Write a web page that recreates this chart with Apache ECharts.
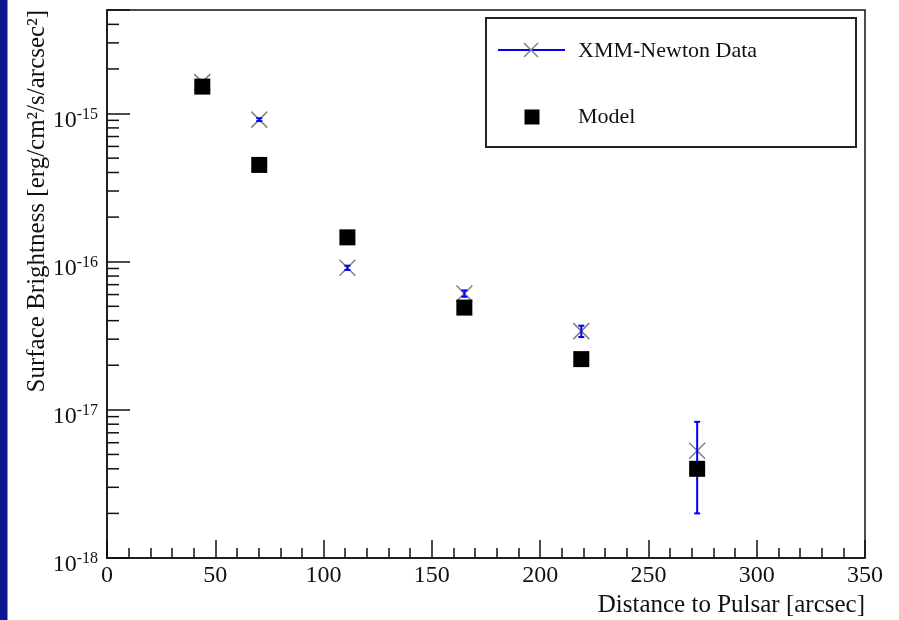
<!DOCTYPE html>
<html>
<head>
<meta charset="utf-8">
<title>Surface Brightness vs Distance to Pulsar</title>
<script src="https://cdn.jsdelivr.net/npm/echarts@6/dist/echarts.min.js"></script>
<style>
  html, body { margin: 0; padding: 0; background: #ffffff; }
  #chart { width: 899px; height: 620px; }
</style>
</head>
<body>
<div id="chart"></div>
<script>
// Radial distances of the annuli [arcsec]
const distances = [44, 70.3, 111, 165, 219, 272.5];

// Measured surface brightness [erg/cm^2/s/arcsec^2] with error bounds
const xmmValues = [1.63e-15, 9.1e-16, 9.1e-17, 6.1e-17, 3.4e-17, 5.3e-18];
const xmmLow    = [1.58e-15, 8.9e-16, 8.8e-17, 5.8e-17, 3.1e-17, 2.0e-18];
const xmmHigh   = [1.68e-15, 9.3e-16, 9.4e-17, 6.4e-17, 3.7e-17, 8.3e-18];

// Model prediction at the same distances
const modelValues = [1.52e-15, 4.5e-16, 1.46e-16, 4.9e-17, 2.2e-17, 4.0e-18];

// Series names
const seriesNames = ['XMM-Newton Data', 'Model'];

// Axis texts and ranges
const xTitle = 'Distance to Pulsar [arcsec]';
const yTitle = 'Surface Brightness [erg/cm\u00B2/s/arcsec\u00B2]';
const xRange = [0, 350];
const yRange = [1e-18, 5e-15];

// Logarithmic minor ticks: 2..9 times each decade
const yDecades = [1e-18, 1e-17, 1e-16, 1e-15];
const minorMultipliers = [2, 3, 4, 5, 6, 7, 8, 9];
const yMinorTicks = [];
yDecades.forEach(d => minorMultipliers.forEach(m => {
  const v = d * m;
  if (v < yRange[1] * 0.999) yMinorTicks.push(v);
}));

const FONT = 'Liberation Serif';
const INK = '#111111';

const chart = echarts.init(document.getElementById('chart'), null, { renderer: 'canvas' });

const xmmData = distances.map((d, i) => [d, xmmValues[i], xmmLow[i], xmmHigh[i]]);
const modelData = distances.map((d, i) => [d, modelValues[i]]);
const minorData = yMinorTicks.map(v => [xRange[0], v]);

const option = {
  animation: false,
  backgroundColor: '#ffffff',
  grid: {
    left: 107, top: 10, right: 34, bottom: 62,
    show: true, borderColor: INK, borderWidth: 1.5, backgroundColor: 'transparent'
  },
  xAxis: {
    type: 'value',
    min: xRange[0], max: xRange[1], interval: 50,
    axisLine: { show: true, onZero: false, lineStyle: { color: INK, width: 1.5 } },
    axisTick: { show: true, inside: true, length: 18, lineStyle: { color: INK, width: 1.5 } },
    minorTick: { show: true, splitNumber: 5, length: 10, lineStyle: { color: INK, width: 1.5 } },
    splitLine: { show: false },
    axisLabel: { color: INK, fontFamily: FONT, fontSize: 24, margin: 6 }
  },
  yAxis: {
    type: 'log', logBase: 10,
    min: yRange[0], max: yRange[1],
    axisLine: { show: true, lineStyle: { color: INK, width: 1.5 } },
    axisTick: { show: true, inside: true, length: 23, lineStyle: { color: INK, width: 1.5 } },
    splitLine: { show: false },
    axisLabel: {
      margin: 9,
      padding: [12, 0, 0, 0],
      formatter: function (v) {
        const e = Math.log10(v);
        const r = Math.round(e);
        if (Math.abs(e - r) > 1e-6) return '';
        return '{b|10}{s|' + r + '}';
      },
      rich: {
        b: { fontFamily: FONT, fontSize: 24, color: INK, lineHeight: 26, verticalAlign: 'bottom' },
        s: { fontFamily: FONT, fontSize: 16, color: INK, lineHeight: 26, verticalAlign: 'top' }
      }
    }
  },
  graphic: [
    // Slide edge strip
    { type: 'rect', left: 0, top: 0, shape: { width: 7.5, height: 620 }, style: { fill: '#0b1690' }, z: 100 },
    // Axis titles
    {
      type: 'text', x: 37, y: 10, rotation: Math.PI / 2,
      style: { text: yTitle, fontFamily: FONT, fontSize: 25, fill: INK, align: 'right', verticalAlign: 'middle' },
      z: 100
    },
    {
      type: 'text', x: 865, y: 605,
      style: { text: xTitle, fontFamily: FONT, fontSize: 25, fill: INK, align: 'right', verticalAlign: 'middle' },
      z: 100
    },
    // Legend box
    {
      type: 'group', z: 100,
      children: [
        { type: 'rect', shape: { x: 486, y: 18, width: 370, height: 129 }, style: { fill: '#ffffff', stroke: '#222222', lineWidth: 2 } },
        { type: 'line', shape: { x1: 498, y1: 50, x2: 565, y2: 50 }, style: { stroke: '#0000ff', lineWidth: 2 } },
        { type: 'line', shape: { x1: 524, y1: 43, x2: 538, y2: 57 }, style: { stroke: '#808080', lineWidth: 1.5 } },
        { type: 'line', shape: { x1: 524, y1: 57, x2: 538, y2: 43 }, style: { stroke: '#808080', lineWidth: 1.5 } },
        { type: 'text', x: 578, y: 51, style: { text: seriesNames[0], fontFamily: FONT, fontSize: 22, fill: INK, align: 'left', verticalAlign: 'middle' } },
        { type: 'rect', shape: { x: 524.5, y: 109.5, width: 15, height: 15 }, style: { fill: '#000000' } },
        { type: 'text', x: 578, y: 117, style: { text: seriesNames[1], fontFamily: FONT, fontSize: 22, fill: INK, align: 'left', verticalAlign: 'middle' } }
      ]
    }
  ],
  series: [
    {
      // Minor ticks of the logarithmic y axis, placed through the axis scale
      name: 'yMinor',
      type: 'custom',
      silent: true,
      data: minorData,
      encode: { x: 0, y: 1 },
      renderItem: function (params, api) {
        const p = api.coord([api.value(0), api.value(1)]);
        return {
          type: 'line',
          shape: { x1: p[0], y1: p[1], x2: p[0] + 12, y2: p[1] },
          style: { stroke: INK, lineWidth: 1.5 }
        };
      },
      z: 3
    },
    {
      name: seriesNames[0],
      type: 'custom',
      data: xmmData,
      encode: { x: 0, y: 1 },
      renderItem: function (params, api) {
        const x = api.value(0);
        const c = api.coord([x, api.value(1)]);
        const lo = api.coord([x, api.value(2)]);
        const hi = api.coord([x, api.value(3)]);
        const s = 8, cap = 3;
        const gray = { stroke: '#808080', lineWidth: 1.5 };
        const blue = { stroke: '#0000ff', lineWidth: 2 };
        return {
          type: 'group',
          children: [
            { type: 'line', shape: { x1: c[0] - s, y1: c[1] - s, x2: c[0] + s, y2: c[1] + s }, style: gray },
            { type: 'line', shape: { x1: c[0] - s, y1: c[1] + s, x2: c[0] + s, y2: c[1] - s }, style: gray },
            { type: 'line', shape: { x1: lo[0], y1: lo[1], x2: hi[0], y2: hi[1] }, style: blue },
            { type: 'line', shape: { x1: lo[0] - cap, y1: lo[1], x2: lo[0] + cap, y2: lo[1] }, style: blue },
            { type: 'line', shape: { x1: hi[0] - cap, y1: hi[1], x2: hi[0] + cap, y2: hi[1] }, style: blue }
          ]
        };
      },
      z: 4
    },
    {
      name: seriesNames[1],
      type: 'scatter',
      data: modelData,
      symbol: 'rect',
      symbolSize: 16,
      itemStyle: { color: '#000000', opacity: 1 },
      z: 5
    }
  ]
};

chart.setOption(option);
</script>
</body>
</html>
